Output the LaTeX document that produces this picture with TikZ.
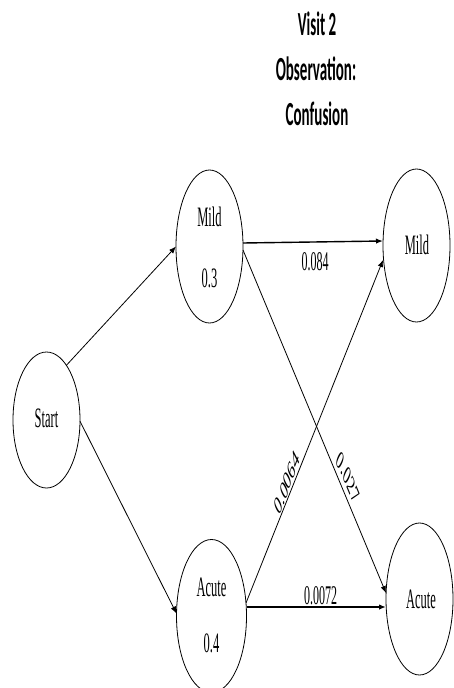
\documentclass[tikz,border=0pt]{standalone}
\usepackage{fontspec}
\setmainfont{Liberation Serif}
\newfontfamily\titlefont{Carlito}
\usetikzlibrary{shapes.geometric,arrows.meta}
\newcommand{\stretchtxt}[1]{\scalebox{1}[2.25]{#1}}
\newcommand{\rottxt}[2]{\scalebox{1}[2.25]{\rotatebox{#1}{#2}}}
\tikzset{
  state/.style={draw, ellipse, line width=0.8pt, inner sep=0pt, outer sep=0pt},
  txt/.style={inner sep=0pt, font=\fontsize{12.5}{14}\selectfont},
  lbl/.style={inner sep=0pt, font=\fontsize{12}{14}\selectfont},
  ttl/.style={inner sep=0pt, font=\titlefont\bfseries\fontsize{15}{18}\selectfont},
  arr/.style={-{Latex[length=7pt,width=5.5pt]}, line width=0.8pt},
  thickarr/.style={-{Latex[length=7pt,width=5.5pt]}, line width=1.4pt}
}
\begin{document}
\begin{tikzpicture}[x=1pt,y=-1pt]
\useasboundingbox (0,0) rectangle (453,688);
% title
\node[ttl] (t1) at (317,24) {\stretchtxt{Visit 2}};
\node[ttl] (t2) at (316,69) {\stretchtxt{Observation:}};
\node[ttl] (t3) at (317,114) {\stretchtxt{Confusion}};
% states
\node[state, minimum width=67pt, minimum height=136pt] (st) at (46.5,420) {};
\node[state, minimum width=67pt, minimum height=153pt] (m1) at (209.5,246.5) {};
\node[state, minimum width=67pt, minimum height=153pt] (m2) at (416.5,245.5) {};
\node[state, minimum width=70pt, minimum height=153pt] (a1) at (211.5,616) {};
\node[state, minimum width=67pt, minimum height=152pt] (a2) at (419.5,599) {};
% state texts
\node[txt] (stt) at (46.5,418) {\stretchtxt{Start}};
\node[txt] (m1a) at (209.5,217) {\stretchtxt{Mild}};
\node[txt] (m1b) at (209.5,278) {\stretchtxt{0.3}};
\node[txt] (m2a) at (417,245) {\stretchtxt{Mild}};
\node[txt] (a1a) at (211.5,587) {\stretchtxt{Acute}};
\node[txt] (a1b) at (211.5,643) {\stretchtxt{0.4}};
\node[txt] (a2a) at (421,599) {\stretchtxt{Acute}};
% connectors
\draw[arr] (st.70) -- (m1.west);
\draw[arr] (st.-2) -- (a1.176);
\draw[thickarr] ([yshift=3.5pt]m1.east) -- ([yshift=4.5pt]m2.west);
\draw[arr] ([yshift=-3.5pt]m1.east) -- ([yshift=6pt]a2.west);
\draw[arr] ([yshift=13pt,xshift=-0.5pt]a1.east) -- ([yshift=-14.5pt]m2.west);
\draw[thickarr] ([yshift=9pt]a1.east) -- ([yshift=-8pt]a2.west);
% labels
\node[lbl] (l1) at (315,262) {\stretchtxt{0.084}};
\node[lbl] (l2) at (320.5,596) {\stretchtxt{0.0072}};
\node[lbl] (l3) at (287,483) {\rottxt{48.9}{0.0064}};
\node[lbl] (l4) at (348,478) {\rottxt{-47.4}{0.027}};
\end{tikzpicture}
\end{document}
